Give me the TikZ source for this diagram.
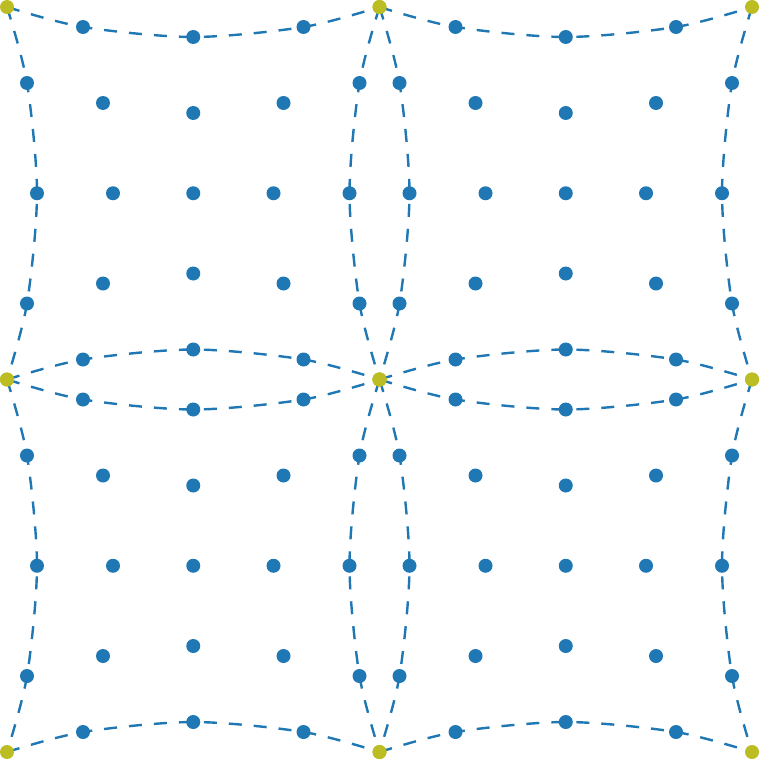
\documentclass[tikz,border=0pt]{standalone}
\definecolor{tabblue}{HTML}{1F77B4}
\definecolor{tabolive}{HTML}{BCBD22}
\tikzset{
  edgecurve/.style={draw=tabblue, line width=2.4pt, dash pattern=on 13pt off 12pt},
  bluedot/.style={fill=tabblue},
  cornerdot/.style={fill=tabolive}
}
\begin{document}
\begin{tikzpicture}[x=1pt,y=-1pt]
\useasboundingbox (0,0) rectangle (760,760);
% coordinates of the points of each cell
\foreach \ox/\cx in {7/0, 379.5/1} {
  \foreach \oy/\cy in {7/0, 379.5/1} {
    \foreach \i/\X/\s/\h in {0/0/1/0, 1/76/1/20, 2/186.25/0/30, 3/296.5/-1/20, 4/372.5/-1/0} {
      \foreach \j/\Y/\t/\k in {0/0/1/0, 1/76/1/20, 2/186.25/0/30, 3/296.5/-1/20, 4/372.5/-1/0} {
        \coordinate (p-\cx-\cy-\i-\j) at ({\ox+\X+\s*\k},{\oy+\Y+\t*\h});
      }
    }
  }
}
% dashed cell boundaries
\foreach \cx in {0,1} {
  \foreach \cy in {0,1} {
    \draw[edgecurve] plot[smooth] coordinates {(p-\cx-\cy-0-0) (p-\cx-\cy-1-0) (p-\cx-\cy-2-0) (p-\cx-\cy-3-0) (p-\cx-\cy-4-0)};
    \draw[edgecurve] plot[smooth] coordinates {(p-\cx-\cy-0-4) (p-\cx-\cy-1-4) (p-\cx-\cy-2-4) (p-\cx-\cy-3-4) (p-\cx-\cy-4-4)};
    \draw[edgecurve] plot[smooth] coordinates {(p-\cx-\cy-0-0) (p-\cx-\cy-0-1) (p-\cx-\cy-0-2) (p-\cx-\cy-0-3) (p-\cx-\cy-0-4)};
    \draw[edgecurve] plot[smooth] coordinates {(p-\cx-\cy-4-0) (p-\cx-\cy-4-1) (p-\cx-\cy-4-2) (p-\cx-\cy-4-3) (p-\cx-\cy-4-4)};
  }
}
% blue points
\foreach \cx in {0,1} {
  \foreach \cy in {0,1} {
    \foreach \i in {0,...,4} {
      \foreach \j in {0,...,4} {
        \pgfmathtruncatemacro{\isc}{((\i==0)||(\i==4))&&((\j==0)||(\j==4))}
        \ifnum\isc=0
          \fill[bluedot] (p-\cx-\cy-\i-\j) circle (7pt);
        \fi
      }
    }
  }
}
% corner points
\foreach \cx in {0,1} {
  \foreach \cy in {0,1} {
    \foreach \i in {0,4} {
      \foreach \j in {0,4} {
        \fill[cornerdot] (p-\cx-\cy-\i-\j) circle (7pt);
      }
    }
  }
}
\end{tikzpicture}
\end{document}
